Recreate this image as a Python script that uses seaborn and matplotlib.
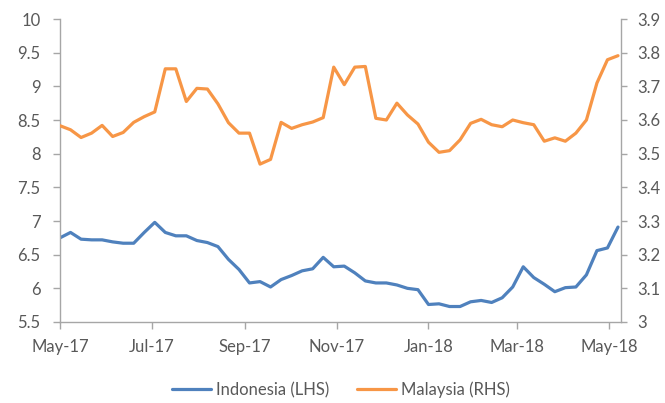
import numpy as np
import pandas as pd
import matplotlib
matplotlib.use("Agg")
import matplotlib.pyplot as plt
import matplotlib.dates as mdates
import seaborn as sns

start_date = "2017-05-01"
n_weeks = 54

indonesia = [6.75, 6.83, 6.73, 6.72, 6.72, 6.69, 6.67, 6.67, 6.83, 6.98,
             6.83, 6.78, 6.78, 6.71, 6.68, 6.62, 6.43, 6.28, 6.08, 6.10,
             6.02, 6.13, 6.19, 6.26, 6.29, 6.46, 6.32, 6.33, 6.23, 6.11,
             6.08, 6.08, 6.05, 6.00, 5.98, 5.76, 5.77, 5.73, 5.73, 5.80,
             5.82, 5.79, 5.86, 6.02, 6.32, 6.16, 6.06, 5.95, 6.01, 6.02,
             6.20, 6.56, 6.60, 6.91]

malaysia = [3.583, 3.571, 3.548, 3.561, 3.584, 3.551, 3.563, 3.593, 3.610, 3.624,
            3.752, 3.752, 3.655, 3.694, 3.692, 3.648, 3.592, 3.561, 3.561, 3.469,
            3.483, 3.593, 3.575, 3.586, 3.594, 3.607, 3.757, 3.705, 3.757, 3.759,
            3.605, 3.600, 3.650, 3.615, 3.588, 3.534, 3.504, 3.509, 3.541, 3.590,
            3.602, 3.586, 3.580, 3.600, 3.592, 3.586, 3.537, 3.547, 3.537, 3.561,
            3.600, 3.710, 3.779, 3.791]

series_labels = ["Indonesia (LHS)", "Malaysia (RHS)"]
left_ticks = [5.5, 6, 6.5, 7, 7.5, 8, 8.5, 9, 9.5, 10]
left_ticklabels = ["5.5", "6", "6.5", "7", "7.5", "8", "8.5", "9", "9.5", "10"]
right_ticks = [3.0, 3.1, 3.2, 3.3, 3.4, 3.5, 3.6, 3.7, 3.8, 3.9]
right_ticklabels = ["3", "3.1", "3.2", "3.3", "3.4", "3.5", "3.6", "3.7", "3.8", "3.9"]

dates = pd.date_range(start_date, periods=n_weeks, freq="7D")
df = pd.DataFrame({"date": dates, "Indonesia": indonesia, "Malaysia": malaysia})

# ---- style ----
sns.set_theme(style="white")
plt.rcParams["font.family"] = ["Lato", "DejaVu Sans"]
text_color = "#595959"
axis_color = "#A6A6A6"
blue = "#4F81BD"
orange = "#F79646"
fs = 12

fig = plt.figure(figsize=(6.65, 4.03), dpi=100)
ax = fig.add_axes([60 / 665, 1 - 322 / 403, (621 - 60) / 665, (322 - 19) / 403])
ax2 = ax.twinx()

sns.lineplot(data=df, x="date", y="Indonesia", ax=ax, color=blue, linewidth=2.3,
             label=series_labels[0], legend=False)
sns.lineplot(data=df, x="date", y="Malaysia", ax=ax2, color=orange, linewidth=2.3,
             label=series_labels[1], legend=False)

ax.set_xlim(pd.Timestamp("2017-05-01"), pd.Timestamp("2018-05-09"))
ax.set_ylim(5.5, 10)
ax2.set_ylim(3.0, 3.9)

ax.set_yticks(left_ticks)
ax.set_yticklabels(left_ticklabels)
ax2.set_yticks(right_ticks)
ax2.set_yticklabels(right_ticklabels)

ax.xaxis.set_major_locator(mdates.MonthLocator(bymonth=[1, 3, 5, 7, 9, 11]))
ax.xaxis.set_major_formatter(mdates.DateFormatter("%b-%y"))

for a in (ax, ax2):
    a.set_xlabel("")
    a.set_ylabel("")
    a.grid(False)
    a.spines["top"].set_visible(False)
    for side in ("left", "right", "bottom"):
        a.spines[side].set_color(axis_color)
        a.spines[side].set_linewidth(1.0)

ax.spines["right"].set_visible(False)
ax2.spines["left"].set_visible(False)
ax2.spines["bottom"].set_visible(False)

ax.tick_params(axis="y", which="both", left=True, direction="out", length=5,
               width=1, color=axis_color, labelcolor=text_color, labelsize=fs, pad=9)
ax.tick_params(axis="x", which="both", bottom=True, direction="out", length=5,
               width=1, color=axis_color, labelcolor=text_color, labelsize=fs, pad=7)
ax2.tick_params(axis="y", which="both", right=True, direction="out", length=4,
                width=1, color=axis_color, labelcolor=text_color, labelsize=fs, pad=8)

h1, l1 = ax.get_legend_handles_labels()
h2, l2 = ax2.get_legend_handles_labels()
leg = fig.legend(h1 + h2, l1 + l2, loc="center", bbox_to_anchor=(341 / 665, 1 - 390 / 403),
                 ncol=2, frameon=False, fontsize=fs, handlelength=2.3,
                 handletextpad=0.3, columnspacing=1.7)
for t in leg.get_texts():
    t.set_color(text_color)

fig.savefig("out.png", dpi=100)
